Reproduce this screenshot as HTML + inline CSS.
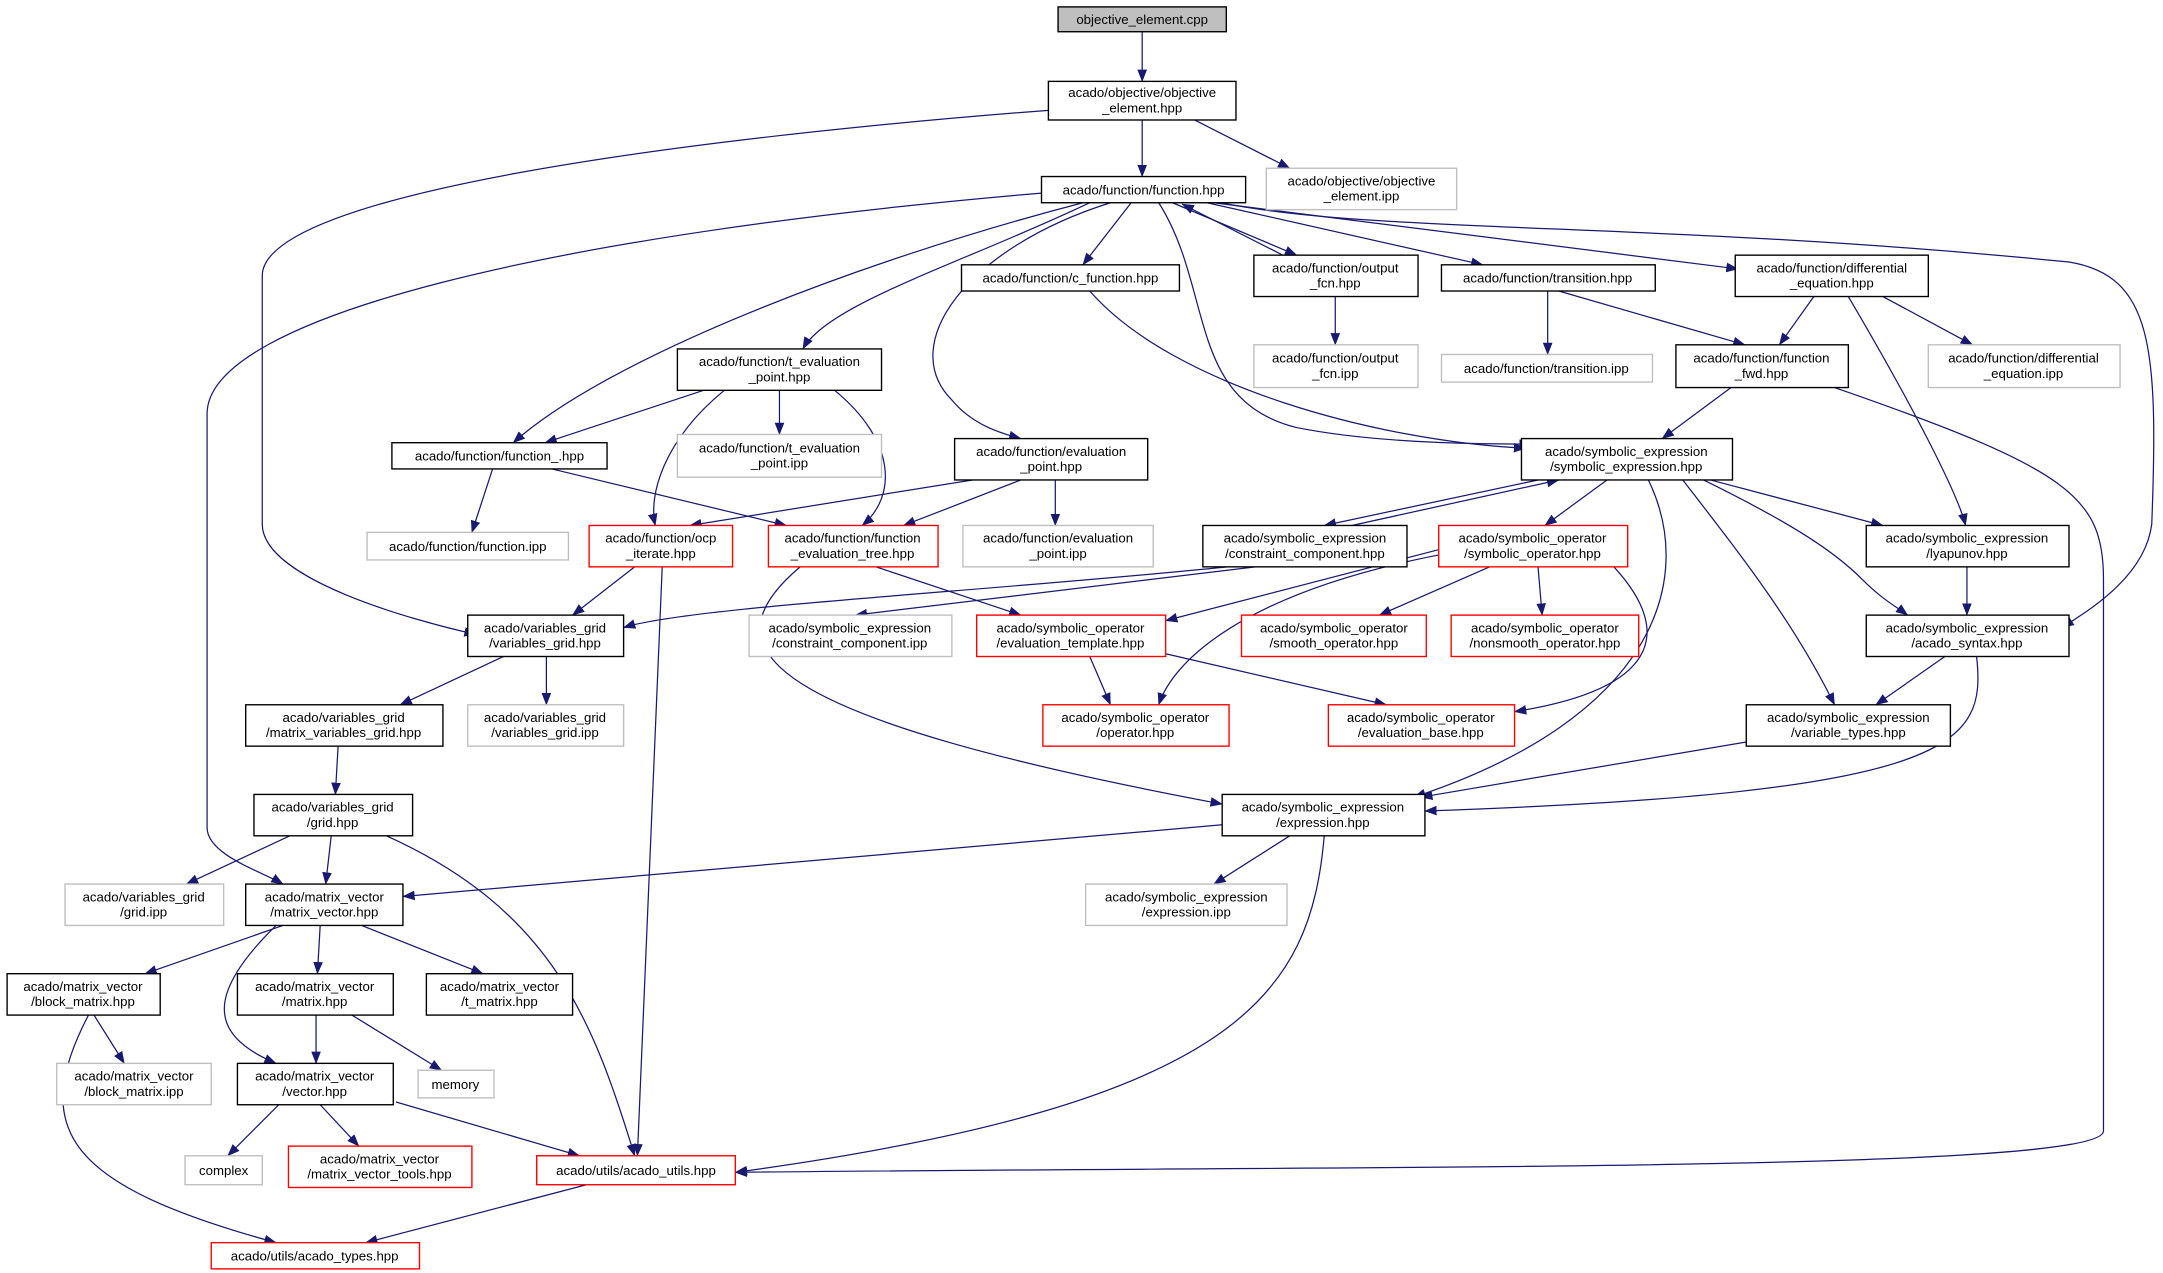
<!DOCTYPE html>
<html><head><meta charset="utf-8"><style>
html,body{margin:0;padding:0;background:#fff;}
svg{display:block;}
text{font-family:"Liberation Sans","DejaVu Sans",sans-serif;font-size:9.6px;fill:#000;text-anchor:middle;}
.n{fill:#fff;stroke:#000;stroke-width:1;}
.g{fill:#fff;stroke:#bfbfbf;stroke-width:1;}
.r{fill:#fff;stroke:#ff0000;stroke-width:1;}
.e{fill:none;stroke:#191970;stroke-width:0.9;marker-end:url(#a);}
</style></head><body>
<svg width="2163" height="1273" viewBox="0 0 1568 923" xmlns="http://www.w3.org/2000/svg">
<defs><marker id="a" markerWidth="9" markerHeight="7" refX="8.5" refY="3.5" orient="auto" markerUnits="userSpaceOnUse"><path d="M0,0 L9,3.5 L0,7 Z" fill="#191970"/></marker></defs>
<g>
<path class="e" d="M828,23 L828,59"/>
<path class="e" d="M828,87 L828,128"/>
<path class="e" d="M866,87 L935,122"/>
<path class="e" d="M760,80 C500,100 190,140 190,200 L190,380 C190,420 300,450 345,460"/>
<path class="e" d="M755,140 C400,170 150,230 150,300 L150,600 C150,620 190,632 205,641"/>
<path class="e" d="M785,147 C620,190 440,260 372,321"/>
<path class="e" d="M790,147 C700,190 600,220 582,253"/>
<path class="e" d="M805,147 C700,180 650,250 690,290 C705,308 725,314 740,318"/>
<path class="e" d="M820,147 L785,192"/>
<path class="e" d="M840,147 C880,210 860,290 940,310 C1000,322 1080,322 1110,322"/>
<path class="e" d="M850,147 L940,185"/>
<path class="e" d="M930,185 L857,148"/>
<path class="e" d="M875,147 L1075,192"/>
<path class="e" d="M880,147 L1260,195"/>
<path class="e" d="M885,147 C1000,170 1200,160 1500,190 C1560,200 1565,250 1560,380 C1555,420 1510,445 1495,455"/>
<path class="e" d="M790,211 C850,280 1000,320 1106,325"/>
<path class="e" d="M968,215 L968,250"/>
<path class="e" d="M1122,211 L1122,257"/>
<path class="e" d="M1130,211 L1265,250"/>
<path class="e" d="M1315,215 L1290,250"/>
<path class="e" d="M1365,215 L1430,250"/>
<path class="e" d="M1340,215 C1390,300 1420,360 1425,381"/>
<path class="e" d="M1255,281 L1205,318"/>
<path class="e" d="M1330,281 C1500,340 1525,360 1525,420 L1525,820 C1525,850 1000,845 533,850"/>
<path class="e" d="M510,283 L395,321"/>
<path class="e" d="M565,283 L565,315"/>
<path class="e" d="M525,283 C480,320 470,360 475,381"/>
<path class="e" d="M605,283 C650,320 650,360 625,381"/>
<path class="e" d="M357,340 L342,386"/>
<path class="e" d="M400,340 L570,381"/>
<path class="e" d="M705,348 L500,381"/>
<path class="e" d="M740,348 L655,381"/>
<path class="e" d="M765,348 L765,381"/>
<path class="e" d="M1115,348 L960,381"/>
<path class="e" d="M980,381 L1130,348"/>
<path class="e" d="M1165,348 L1120,381"/>
<path class="e" d="M1240,348 L1365,381"/>
<path class="e" d="M1235,348 C1300,380 1330,400 1350,420 C1365,435 1375,440 1383,446"/>
<path class="e" d="M1220,348 C1260,400 1300,450 1330,511"/>
<path class="e" d="M1195,348 C1230,420 1200,520 1025,578"/>
<path class="e" d="M460,411 L415,446"/>
<path class="e" d="M480,411 L462,838"/>
<path class="e" d="M635,411 L740,446"/>
<path class="e" d="M580,411 C510,470 550,520 886,583"/>
<path class="e" d="M890,411 C700,430 500,440 452,455"/>
<path class="e" d="M910,411 L620,446"/>
<path class="e" d="M1045,398 L845,450"/>
<path class="e" d="M1045,402 C900,430 850,480 840,511"/>
<path class="e" d="M1080,411 L1000,446"/>
<path class="e" d="M1115,411 L1118,446"/>
<path class="e" d="M1170,411 C1215,460 1200,500 1098,516"/>
<path class="e" d="M1426,411 L1426,446"/>
<path class="e" d="M1410,476 L1360,511"/>
<path class="e" d="M1433,476 C1440,540 1420,575 1033,588"/>
<path class="e" d="M365,476 L290,511"/>
<path class="e" d="M396,476 L396,511"/>
<path class="e" d="M790,476 L805,511"/>
<path class="e" d="M845,474 L1005,511"/>
<path class="e" d="M1266,538 L1030,578"/>
<path class="e" d="M245,541 L243,576"/>
<path class="e" d="M210,606 L135,641"/>
<path class="e" d="M240,606 L236,641"/>
<path class="e" d="M280,606 C400,660 430,740 460,838"/>
<path class="e" d="M886,598 L292,650"/>
<path class="e" d="M935,606 L880,641"/>
<path class="e" d="M960,606 C950,720 900,800 533,850"/>
<path class="e" d="M205,671 L105,706"/>
<path class="e" d="M232,671 L230,706"/>
<path class="e" d="M262,671 L350,706"/>
<path class="e" d="M200,671 C150,720 150,750 200,771"/>
<path class="e" d="M68,736 L90,771"/>
<path class="e" d="M64,736 C20,820 50,860 200,901"/>
<path class="e" d="M229,736 L229,771"/>
<path class="e" d="M255,736 L320,776"/>
<path class="e" d="M202,801 L165,838"/>
<path class="e" d="M232,801 L260,831"/>
<path class="e" d="M287,799 L420,838"/>
<path class="e" d="M425,859 L265,901"/>
</g>
<g>
<rect x="767" y="5" width="122" height="18" fill="#bfbfbf" stroke="#000"/><text x="828" y="17.5">objective_element.cpp</text>
<rect class="n" x="760" y="59" width="136" height="28"/><text x="828" y="70.5">acado/objective/objective</text><text x="828" y="81.5">_element.hpp</text>
<rect class="g" x="918" y="122" width="138" height="30"/><text x="987" y="134.5">acado/objective/objective</text><text x="987" y="145.5">_element.ipp</text>
<rect class="n" x="755" y="128" width="148" height="19"/><text x="829" y="141">acado/function/function.hpp</text>
<rect class="n" x="697" y="192" width="158" height="19"/><text x="776" y="205">acado/function/c_function.hpp</text>
<rect class="n" x="909" y="185" width="119" height="30"/><text x="968" y="197.5">acado/function/output</text><text x="968" y="208.5">_fcn.hpp</text>
<rect class="n" x="1045" y="192" width="155" height="19"/><text x="1122" y="205">acado/function/transition.hpp</text>
<rect class="n" x="1258" y="185" width="140" height="30"/><text x="1328" y="197.5">acado/function/differential</text><text x="1328" y="208.5">_equation.hpp</text>
<rect class="g" x="909" y="250" width="119" height="31"/><text x="968" y="263">acado/function/output</text><text x="968" y="274">_fcn.ipp</text>
<rect class="g" x="1045" y="257" width="153" height="20"/><text x="1121" y="270.5">acado/function/transition.ipp</text>
<rect class="n" x="1215" y="250" width="125" height="31"/><text x="1277" y="263">acado/function/function</text><text x="1277" y="274">_fwd.hpp</text>
<rect class="g" x="1398" y="250" width="139" height="31"/><text x="1467" y="263">acado/function/differential</text><text x="1467" y="274">_equation.ipp</text>
<rect class="n" x="491" y="253" width="148" height="30"/><text x="565" y="265.5">acado/function/t_evaluation</text><text x="565" y="276.5">_point.hpp</text>
<rect class="n" x="284" y="321" width="156" height="19"/><text x="362" y="334">acado/function/function_.hpp</text>
<rect class="g" x="491" y="315" width="148" height="31"/><text x="565" y="328">acado/function/t_evaluation</text><text x="565" y="339">_point.ipp</text>
<rect class="n" x="692" y="318" width="140" height="30"/><text x="762" y="330.5">acado/function/evaluation</text><text x="762" y="341.5">_point.hpp</text>
<rect class="n" x="1103" y="318" width="153" height="30"/><text x="1179" y="330.5">acado/symbolic_expression</text><text x="1179" y="341.5">/symbolic_expression.hpp</text>
<rect class="g" x="266" y="386" width="146" height="20"/><text x="339" y="399.5">acado/function/function.ipp</text>
<rect class="r" x="427" y="381" width="104" height="30"/><text x="479" y="393.5">acado/function/ocp</text><text x="479" y="404.5">_iterate.hpp</text>
<rect class="r" x="557" y="381" width="123" height="30"/><text x="618" y="393.5">acado/function/function</text><text x="618" y="404.5">_evaluation_tree.hpp</text>
<rect class="g" x="698" y="381" width="138" height="30"/><text x="767" y="393.5">acado/function/evaluation</text><text x="767" y="404.5">_point.ipp</text>
<rect class="n" x="872" y="381" width="148" height="30"/><text x="946" y="393.5">acado/symbolic_expression</text><text x="946" y="404.5">/constraint_component.hpp</text>
<rect class="r" x="1043" y="381" width="137" height="30"/><text x="1111" y="393.5">acado/symbolic_operator</text><text x="1111" y="404.5">/symbolic_operator.hpp</text>
<rect class="n" x="1353" y="381" width="147" height="30"/><text x="1426" y="393.5">acado/symbolic_expression</text><text x="1426" y="404.5">/lyapunov.hpp</text>
<rect class="n" x="339" y="446" width="113" height="30"/><text x="395" y="458.5">acado/variables_grid</text><text x="395" y="469.5">/variables_grid.hpp</text>
<rect class="g" x="543" y="446" width="147" height="30"/><text x="616" y="458.5">acado/symbolic_expression</text><text x="616" y="469.5">/constraint_component.ipp</text>
<rect class="r" x="708" y="446" width="137" height="30"/><text x="776" y="458.5">acado/symbolic_operator</text><text x="776" y="469.5">/evaluation_template.hpp</text>
<rect class="r" x="900" y="446" width="134" height="30"/><text x="967" y="458.5">acado/symbolic_operator</text><text x="967" y="469.5">/smooth_operator.hpp</text>
<rect class="r" x="1052" y="446" width="136" height="30"/><text x="1120" y="458.5">acado/symbolic_operator</text><text x="1120" y="469.5">/nonsmooth_operator.hpp</text>
<rect class="n" x="1353" y="446" width="147" height="30"/><text x="1426" y="458.5">acado/symbolic_expression</text><text x="1426" y="469.5">/acado_syntax.hpp</text>
<rect class="n" x="178" y="511" width="143" height="30"/><text x="249" y="523.5">acado/variables_grid</text><text x="249" y="534.5">/matrix_variables_grid.hpp</text>
<rect class="g" x="339" y="511" width="113" height="30"/><text x="395" y="523.5">acado/variables_grid</text><text x="395" y="534.5">/variables_grid.ipp</text>
<rect class="r" x="756" y="511" width="135" height="30"/><text x="823" y="523.5">acado/symbolic_operator</text><text x="823" y="534.5">/operator.hpp</text>
<rect class="r" x="963" y="511" width="135" height="30"/><text x="1030" y="523.5">acado/symbolic_operator</text><text x="1030" y="534.5">/evaluation_base.hpp</text>
<rect class="n" x="1266" y="511" width="148" height="30"/><text x="1340" y="523.5">acado/symbolic_expression</text><text x="1340" y="534.5">/variable_types.hpp</text>
<rect class="n" x="184" y="576" width="115" height="30"/><text x="241" y="588.5">acado/variables_grid</text><text x="241" y="599.5">/grid.hpp</text>
<rect class="n" x="886" y="576" width="147" height="30"/><text x="959" y="588.5">acado/symbolic_expression</text><text x="959" y="599.5">/expression.hpp</text>
<rect class="g" x="47" y="641" width="115" height="30"/><text x="104" y="653.5">acado/variables_grid</text><text x="104" y="664.5">/grid.ipp</text>
<rect class="n" x="178" y="641" width="114" height="30"/><text x="235" y="653.5">acado/matrix_vector</text><text x="235" y="664.5">/matrix_vector.hpp</text>
<rect class="g" x="787" y="641" width="146" height="30"/><text x="860" y="653.5">acado/symbolic_expression</text><text x="860" y="664.5">/expression.ipp</text>
<rect class="n" x="5" y="706" width="111" height="30"/><text x="60" y="718.5">acado/matrix_vector</text><text x="60" y="729.5">/block_matrix.hpp</text>
<rect class="n" x="172" y="706" width="113" height="30"/><text x="228" y="718.5">acado/matrix_vector</text><text x="228" y="729.5">/matrix.hpp</text>
<rect class="n" x="309" y="706" width="106" height="30"/><text x="362" y="718.5">acado/matrix_vector</text><text x="362" y="729.5">/t_matrix.hpp</text>
<rect class="g" x="41" y="771" width="112" height="30"/><text x="97" y="783.5">acado/matrix_vector</text><text x="97" y="794.5">/block_matrix.ipp</text>
<rect class="n" x="172" y="771" width="113" height="30"/><text x="228" y="783.5">acado/matrix_vector</text><text x="228" y="794.5">/vector.hpp</text>
<rect class="g" x="303" y="776" width="55" height="20"/><text x="330" y="789.5">memory</text>
<rect class="g" x="134" y="838" width="56" height="21"/><text x="162" y="852">complex</text>
<rect class="r" x="209" y="831" width="133" height="30"/><text x="275" y="843.5">acado/matrix_vector</text><text x="275" y="854.5">/matrix_vector_tools.hpp</text>
<rect class="r" x="389" y="838" width="144" height="21"/><text x="461" y="852">acado/utils/acado_utils.hpp</text>
<rect class="r" x="153" y="901" width="151" height="19"/><text x="228" y="914">acado/utils/acado_types.hpp</text>
</g>
</svg>
</body></html>
